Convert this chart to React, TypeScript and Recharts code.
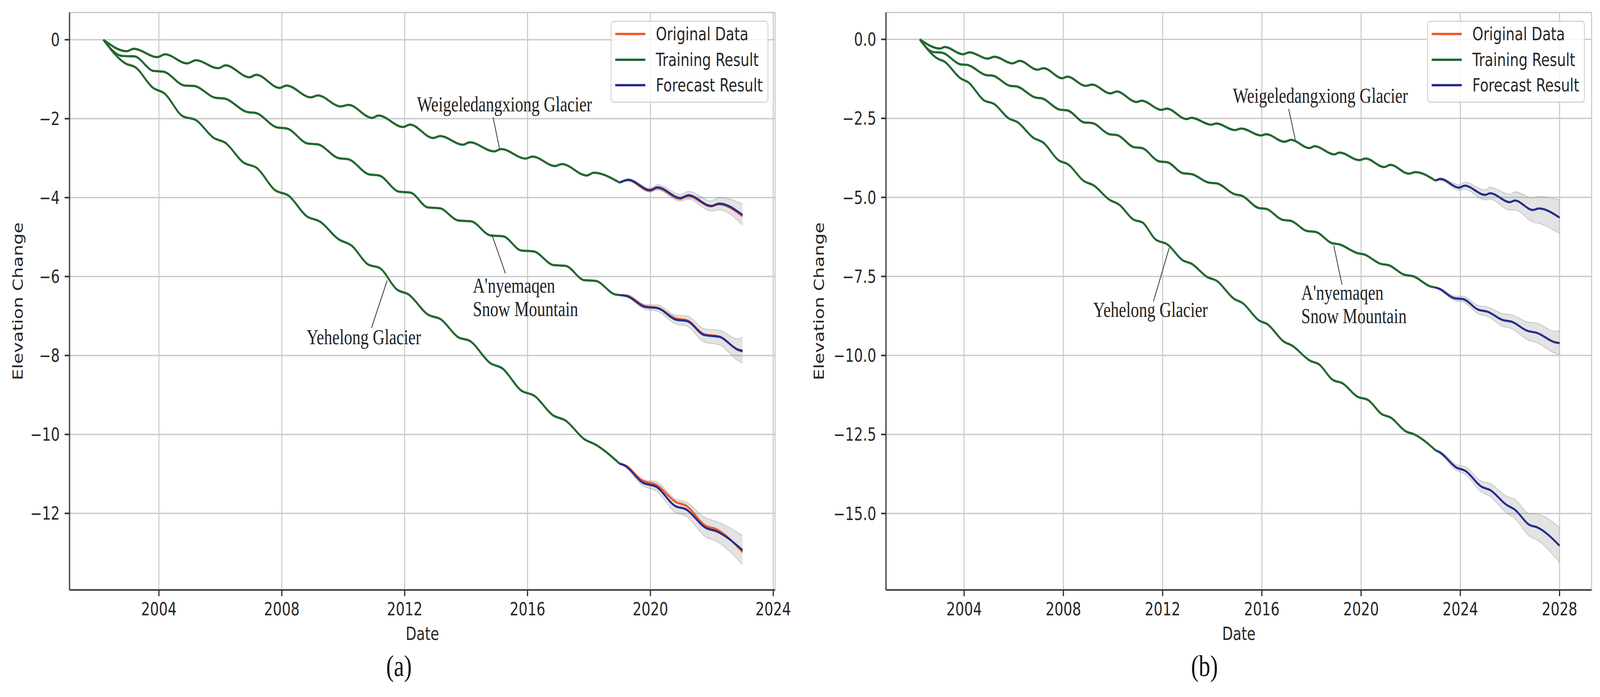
import React from "react";
import {
  ComposedChart,
  Line,
  Area,
  Scatter,
  XAxis,
  YAxis,
  CartesianGrid,
  ReferenceLine,
  Legend,
} from "recharts";

type Pt = [number, number];
type BandPt = [number, number, number];

// ---------- (a) trained to 2019, forecast 2019-2023 ----------
const WEIGE_A_TRAIN: Pt[] = [
  [2002.19, 0], [2002.95, -0.29], [2003.18, -0.23], [2003.95, -0.44], [2004.2, -0.37],
  [2004.92, -0.6], [2005.2, -0.52], [2005.93, -0.72], [2006.17, -0.65], [2006.95, -0.95],
  [2007.17, -0.89], [2007.93, -1.22], [2008.15, -1.16], [2008.95, -1.46], [2009.17, -1.41],
  [2009.92, -1.69], [2010.17, -1.65], [2010.94, -1.98], [2011.15, -1.92], [2011.95, -2.21],
  [2012.17, -2.15], [2012.93, -2.49], [2013.15, -2.44], [2013.9, -2.66], [2014.12, -2.6],
  [2014.92, -2.83], [2015.14, -2.77], [2015.94, -3.01], [2016.16, -2.96], [2016.9, -3.2],
  [2017.12, -3.15], [2017.93, -3.44], [2018.15, -3.37], [2019.0, -3.62],
];
const WEIGE_A_OBS: Pt[] = [
  [2019.0, -3.62], [2019.27, -3.56], [2019.98, -3.83], [2020.22, -3.76], [2020.97, -4.03],
  [2021.23, -3.96], [2021.97, -4.22], [2022.23, -4.17], [2023.0, -4.47],
];
const WEIGE_A_FC: Pt[] = [
  [2019.0, -3.62], [2019.28, -3.55], [2019.99, -3.81], [2020.23, -3.74], [2020.98, -4.01],
  [2021.24, -3.94], [2021.98, -4.21], [2022.24, -4.15], [2023.0, -4.44],
];
const WEIGE_A_BAND: BandPt[] = [
  [2019.0, -3.62, -3.62], [2019.28, -3.58, -3.52], [2019.99, -3.86, -3.76], [2020.23, -3.81, -3.67],
  [2020.98, -4.09, -3.92], [2021.24, -4.04, -3.84], [2021.98, -4.34, -4.08], [2022.24, -4.31, -3.99],
  [2023.0, -4.7, -4.16],
];

const ANYE_A_TRAIN: Pt[] = [
  [2002.19, 0], [2002.8, -0.41], [2003.2, -0.42], [2003.82, -0.79], [2004.15, -0.81],
  [2004.84, -1.16], [2005.14, -1.17], [2005.84, -1.47], [2006.13, -1.49], [2006.87, -1.83],
  [2007.17, -1.86], [2007.84, -2.22], [2008.17, -2.25], [2008.85, -2.63], [2009.17, -2.65],
  [2009.85, -3.0], [2010.17, -3.03], [2010.84, -3.41], [2011.17, -3.44], [2011.82, -3.85],
  [2012.18, -3.87], [2012.76, -4.25], [2013.14, -4.27], [2013.75, -4.58], [2014.16, -4.6],
  [2014.8, -4.96], [2015.2, -4.98], [2015.8, -5.34], [2016.19, -5.36], [2016.85, -5.71],
  [2017.24, -5.73], [2017.84, -6.09], [2018.22, -6.11], [2018.84, -6.45], [2019.0, -6.47],
];
const ANYE_A_OBS: Pt[] = [
  [2019.0, -6.47], [2019.25, -6.49], [2019.83, -6.75], [2020.23, -6.79], [2020.82, -7.06],
  [2021.2, -7.11], [2021.75, -7.46], [2022.25, -7.52], [2022.85, -7.86], [2023.0, -7.9],
];
const ANYE_A_FC: Pt[] = [
  [2019.0, -6.47], [2019.25, -6.5], [2019.83, -6.77], [2020.23, -6.8], [2020.82, -7.09],
  [2021.2, -7.13], [2021.75, -7.48], [2022.25, -7.53], [2022.85, -7.85], [2023.0, -7.88],
];
const ANYE_A_BAND: BandPt[] = [
  [2019.0, -6.47, -6.47], [2019.25, -6.53, -6.46], [2019.83, -6.83, -6.71], [2020.23, -6.88, -6.72],
  [2020.82, -7.2, -6.98], [2021.2, -7.26, -7.0], [2021.75, -7.66, -7.32], [2022.25, -7.73, -7.36],
  [2022.85, -8.13, -7.58], [2023.0, -8.19, -7.53],
];

const YEHE_A_TRAIN: Pt[] = [
  [2002.19, 0], [2002.93, -0.61], [2003.22, -0.69], [2003.81, -1.22], [2004.18, -1.36],
  [2004.76, -1.93], [2005.21, -2.04], [2005.79, -2.49], [2006.16, -2.61], [2006.75, -3.11],
  [2007.19, -3.25], [2007.78, -3.81], [2008.22, -3.95], [2008.81, -4.47], [2009.25, -4.61],
  [2009.84, -5.05], [2010.28, -5.22], [2010.8, -5.69], [2011.2, -5.79], [2011.75, -6.33],
  [2012.12, -6.45], [2012.77, -6.97], [2013.17, -7.08], [2013.75, -7.54], [2014.12, -7.63],
  [2014.8, -8.2], [2015.17, -8.32], [2015.8, -8.89], [2016.22, -9.02], [2016.82, -9.51],
  [2017.24, -9.65], [2017.85, -10.12], [2018.22, -10.26], [2019.0, -10.74],
];
const YEHE_A_OBS: Pt[] = [
  [2019.0, -10.74], [2019.17, -10.78], [2019.75, -11.17], [2020.2, -11.28], [2020.85, -11.72],
  [2021.15, -11.8], [2021.81, -12.32], [2022.14, -12.4], [2023.0, -12.98],
];
const YEHE_A_FC: Pt[] = [
  [2019.0, -10.74], [2019.17, -10.79], [2019.75, -11.22], [2020.2, -11.33], [2020.82, -11.82],
  [2021.14, -11.89], [2021.81, -12.37], [2022.14, -12.45], [2023.0, -12.93],
];
const YEHE_A_BAND: BandPt[] = [
  [2019.0, -10.74, -10.74], [2019.17, -10.82, -10.76], [2019.75, -11.3, -11.14], [2020.2, -11.44, -11.2],
  [2020.82, -11.98, -11.64], [2021.14, -12.06, -11.7], [2021.81, -12.6, -12.12], [2022.14, -12.7, -12.2],
  [2023.0, -13.3, -12.56],
];

// ---------- (b) trained to 2023, forecast 2023-2028 ----------
const WEIGE_B_TRAIN: Pt[] = [
  [2002.21, 0], [2003.03, -0.29], [2003.22, -0.24], [2003.95, -0.47], [2004.22, -0.41],
  [2004.95, -0.61], [2005.22, -0.55], [2005.95, -0.76], [2006.23, -0.68], [2006.96, -0.96],
  [2007.2, -0.91], [2007.96, -1.23], [2008.16, -1.18], [2008.9, -1.47], [2009.15, -1.43],
  [2009.9, -1.71], [2010.15, -1.65], [2010.95, -1.98], [2011.15, -1.94], [2011.96, -2.23],
  [2012.16, -2.19], [2012.97, -2.52], [2013.16, -2.48], [2013.96, -2.7], [2014.16, -2.66],
  [2014.92, -2.87], [2015.17, -2.82], [2015.97, -3.04], [2016.17, -3.0], [2016.92, -3.24],
  [2017.17, -3.18], [2017.92, -3.44], [2018.12, -3.38], [2018.93, -3.64], [2019.12, -3.58],
  [2019.93, -3.82], [2020.18, -3.77], [2020.93, -4.04], [2021.18, -3.97], [2021.93, -4.25],
  [2022.18, -4.2], [2023.0, -4.47],
];
const WEIGE_B_FC: Pt[] = [
  [2023.0, -4.47], [2023.2, -4.42], [2023.95, -4.69], [2024.18, -4.63], [2025.0, -4.92],
  [2025.2, -4.87], [2026.0, -5.15], [2026.2, -5.1], [2026.93, -5.4], [2027.16, -5.35],
  [2028.0, -5.64],
];
const WEIGE_B_BAND: BandPt[] = [
  [2023.0, -4.47, -4.47], [2023.2, -4.46, -4.38], [2023.95, -4.78, -4.6], [2024.18, -4.74, -4.52],
  [2025.0, -5.08, -4.76], [2025.2, -5.06, -4.68], [2026.0, -5.4, -4.9], [2026.2, -5.4, -4.82],
  [2026.93, -5.78, -5.02], [2027.16, -5.82, -4.97], [2028.0, -6.14, -5.08],
];

const ANYE_B_TRAIN: Pt[] = [
  [2002.21, 0], [2002.75, -0.4], [2003.1, -0.42], [2003.86, -0.79], [2004.14, -0.81],
  [2004.88, -1.13], [2005.16, -1.15], [2005.85, -1.47], [2006.12, -1.49], [2006.87, -1.84],
  [2007.15, -1.87], [2007.84, -2.22], [2008.17, -2.25], [2008.85, -2.63], [2009.17, -2.65],
  [2009.85, -3.0], [2010.17, -3.03], [2010.84, -3.41], [2011.17, -3.44], [2011.86, -3.86],
  [2012.2, -3.89], [2012.8, -4.23], [2013.2, -4.27], [2013.85, -4.53], [2014.2, -4.56],
  [2014.9, -4.9], [2015.2, -4.95], [2015.85, -5.33], [2016.2, -5.37], [2016.8, -5.7],
  [2017.2, -5.75], [2017.8, -6.06], [2018.2, -6.1], [2018.8, -6.44], [2019.14, -6.49],
  [2019.84, -6.76], [2020.14, -6.81], [2020.78, -7.1], [2021.13, -7.15], [2021.72, -7.44],
  [2022.12, -7.5], [2022.8, -7.82], [2023.0, -7.85],
];
const ANYE_B_FC: Pt[] = [
  [2023.0, -7.85], [2023.15, -7.89], [2023.76, -8.19], [2024.12, -8.22], [2024.71, -8.55],
  [2025.11, -8.62], [2025.71, -8.88], [2026.06, -8.93], [2026.7, -9.22], [2027.1, -9.29],
  [2027.8, -9.58], [2028.0, -9.61],
];
const ANYE_B_BAND: BandPt[] = [
  [2023.0, -7.85, -7.85], [2023.15, -7.92, -7.86], [2023.76, -8.26, -8.12], [2024.12, -8.31, -8.13],
  [2024.71, -8.68, -8.42], [2025.11, -8.77, -8.47], [2025.71, -9.08, -8.68], [2026.06, -9.15, -8.71],
  [2026.7, -9.5, -8.94], [2027.1, -9.6, -8.98], [2027.8, -9.93, -9.23], [2028.0, -9.98, -9.22],
];

const YEHE_B_TRAIN: Pt[] = [
  [2002.21, 0], [2002.93, -0.61], [2003.2, -0.7], [2003.85, -1.23], [2004.17, -1.36],
  [2004.8, -1.93], [2005.2, -2.04], [2005.8, -2.5], [2006.15, -2.62], [2006.8, -3.12],
  [2007.18, -3.26], [2007.8, -3.82], [2008.2, -3.96], [2008.82, -4.48], [2009.22, -4.62],
  [2009.85, -5.07], [2010.25, -5.23], [2010.82, -5.7], [2011.2, -5.8], [2011.7, -6.32],
  [2012.2, -6.49], [2012.81, -6.99], [2013.17, -7.1], [2013.8, -7.52], [2014.16, -7.63],
  [2014.9, -8.22], [2015.2, -8.33], [2015.9, -8.9], [2016.2, -9.0], [2016.9, -9.57],
  [2017.2, -9.68], [2017.95, -10.17], [2018.3, -10.28], [2018.85, -10.77], [2019.25, -10.88],
  [2019.84, -11.3], [2020.3, -11.42], [2020.82, -11.85], [2021.2, -11.97], [2021.8, -12.4],
  [2022.15, -12.5], [2023.0, -13.0],
];
const YEHE_B_FC: Pt[] = [
  [2023.0, -13.0], [2023.2, -13.08], [2023.85, -13.55], [2024.2, -13.65], [2024.85, -14.15],
  [2025.2, -14.26], [2025.85, -14.72], [2026.2, -14.88], [2026.78, -15.36], [2027.1, -15.44],
  [2028.0, -16.02],
];
const YEHE_B_BAND: BandPt[] = [
  [2023.0, -13.0, -13.0], [2023.2, -13.12, -13.04], [2023.85, -13.64, -13.46], [2024.2, -13.76, -13.52],
  [2024.85, -14.32, -13.98], [2025.2, -14.46, -14.05], [2025.85, -14.98, -14.45], [2026.2, -15.16, -14.56],
  [2026.78, -15.72, -15.0], [2027.1, -15.84, -15.02], [2028.0, -16.56, -15.44],
];

// ---------- axes, ticks, labels ----------
const X_TICKS_A = [2004, 2008, 2012, 2016, 2020, 2024];
const X_TICKS_B = [2004, 2008, 2012, 2016, 2020, 2024, 2028];
const Y_TICKS_A = [-12, -10, -8, -6, -4, -2, 0];
const Y_TICKS_B = [-15, -12.5, -10, -7.5, -5, -2.5, 0];

const NOTES_A = [
  { t: 2015.25, v: -1.81, anchor: "middle", lines: ["Weigeledangxiong Glacier"] },
  { t: 2014.22, v: -6.41, anchor: "start", lines: ["A'nyemaqen", "Snow Mountain"] },
  { t: 2010.67, v: -7.71, anchor: "middle", lines: ["Yehelong Glacier"] },
];
const NOTES_B = [
  { t: 2018.36, v: -2.0, anchor: "middle", lines: ["Weigeledangxiong Glacier"] },
  { t: 2017.59, v: -8.23, anchor: "start", lines: ["A'nyemaqen", "Snow Mountain"] },
  { t: 2011.51, v: -8.78, anchor: "middle", lines: ["Yehelong Glacier"] },
];
const LEADERS_A: [Pt, Pt][] = [
  [[2014.88, -1.97], [2015.09, -2.77]],
  [[2014.84, -4.94], [2015.28, -5.92]],
  [[2011.43, -6.1], [2010.92, -7.3]],
];
const LEADERS_B: [Pt, Pt][] = [
  [[2017.08, -2.2], [2017.35, -3.18]],
  [[2018.9, -6.53], [2019.23, -7.76]],
  [[2012.27, -6.59], [2011.63, -8.29]],
];

const ORANGE = "#f0592a";
const GREEN = "#1a6b33";
const NAVY = "#232e8c";
const LEGEND_ITEMS = [
  { label: "Original Data", color: ORANGE },
  { label: "Training Result", color: GREEN },
  { label: "Forecast Result", color: NAVY },
];

const SANS = "DejaVu Sans";
const SERIF = "Liberation Serif";
// the reference figure is squeezed horizontally, so lay out wide and compress
// to whatever width the page really has
const REF_W = 4211;
const SQUEEZE = 0.8;
const LAYOUT_W = REF_W / SQUEEZE;
const H = 1784;
const Y_AXIS_W = 228.75;
const NOTE_SIZE = 54;
const NOTE_LEAD = 60;

const TICK = { fontFamily: SANS, fontSize: 46, fill: "#262626" };
const TICK_LINE = { stroke: "#333", strokeWidth: 4 };
const SPINE = { stroke: "#3a3a3a", strokeWidth: 4 };

const toPts = (a: Pt[]) => a.map(([t, v]) => ({ t, v }));
const toBand = (a: BandPt[]) => a.map(([t, lo, hi]) => ({ t, band: [lo, hi] }));
const minus = (s: string) => s.replace("-", "\u2212");

const PANELS = [
  {
    key: "a",
    left: 0,
    width: 2650,
    right: 100,
    xDomain: [2001.09, 2024.06],
    xTicks: X_TICKS_A,
    yDomain: [-13.94, 0.69],
    yTicks: Y_TICKS_A,
    yFmt: (v: number) => minus(String(v)),
    series: [
      { train: WEIGE_A_TRAIN, obs: WEIGE_A_OBS, fc: WEIGE_A_FC, band: WEIGE_A_BAND },
      { train: ANYE_A_TRAIN, obs: ANYE_A_OBS, fc: ANYE_A_FC, band: ANYE_A_BAND },
      { train: YEHE_A_TRAIN, obs: YEHE_A_OBS, fc: YEHE_A_FC, band: YEHE_A_BAND },
    ],
    notes: NOTES_A,
    leaders: LEADERS_A,
  },
  {
    key: "b",
    left: 2686.25,
    width: 2577.5,
    right: 27.5,
    xDomain: [2000.85, 2029.29],
    xTicks: X_TICKS_B,
    yDomain: [-17.42, 0.85],
    yTicks: Y_TICKS_B,
    yFmt: (v: number) => minus(v.toFixed(1)),
    series: [
      { train: WEIGE_B_TRAIN, obs: [] as Pt[], fc: WEIGE_B_FC, band: WEIGE_B_BAND },
      { train: ANYE_B_TRAIN, obs: [] as Pt[], fc: ANYE_B_FC, band: ANYE_B_BAND },
      { train: YEHE_B_TRAIN, obs: [] as Pt[], fc: YEHE_B_FC, band: YEHE_B_BAND },
    ],
    notes: NOTES_B,
    leaders: LEADERS_B,
  },
];

function NoteShape(props: any) {
  const { cx, cy, payload } = props;
  return (
    <text
      x={cx}
      y={cy}
      textAnchor={payload.anchor}
      fontFamily={SERIF}
      fontSize={NOTE_SIZE}
      fill="#222"
    >
      {payload.lines.map((line: string, i: number) => (
        <tspan key={i} x={cx} dy={i === 0 ? 0 : NOTE_LEAD}>
          {line}
        </tspan>
      ))}
    </text>
  );
}

function LegendBox() {
  return (
    <div
      style={{
        position: "relative",
        width: 518.75,
        height: 210,
        boxSizing: "border-box",
        border: "3px solid #d4d4d4",
        borderRadius: 10,
        background: "rgba(255,255,255,0.8)",
      }}
    >
      {LEGEND_ITEMS.map((it, i) => (
        <div
          key={it.label}
          style={{
            position: "absolute",
            left: 12,
            top: 34 + i * 65.5 - 23 - 3,
            height: 46,
            display: "flex",
            alignItems: "center",
            whiteSpace: "nowrap",
          }}
        >
          <div style={{ width: 99, height: 6, background: it.color }} />
          <span
            style={{
              marginLeft: 35,
              fontFamily: SANS,
              fontSize: 46,
              color: "#262626",
              lineHeight: "46px",
            }}
          >
            {it.label}
          </span>
        </div>
      ))}
    </div>
  );
}

const lineProps = {
  type: "monotone" as const,
  dataKey: "v",
  strokeWidth: 5.5,
  dot: false,
  activeDot: false,
  isAnimationActive: false,
};

function Panel({ p }: { p: (typeof PANELS)[number] }) {
  return (
    <ComposedChart
      width={p.width}
      height={H}
      margin={{ top: 32, right: p.right, bottom: 174, left: 0 }}
    >
      <CartesianGrid stroke="#cbcbcb" strokeWidth={3.5} />
      <XAxis
        dataKey="t"
        type="number"
        domain={p.xDomain}
        ticks={p.xTicks}
        allowDataOverflow
        interval={0}
        height={100}
        tickSize={16}
        tickMargin={16}
        tick={TICK}
        tickLine={TICK_LINE}
        axisLine={SPINE}
      />
      <XAxis
        xAxisId="top"
        orientation="top"
        type="number"
        domain={p.xDomain}
        allowDataOverflow
        height={0}
        tick={false}
        tickLine={false}
        axisLine={SPINE}
      />
      <YAxis
        type="number"
        domain={p.yDomain}
        ticks={p.yTicks}
        allowDataOverflow
        interval={0}
        width={Y_AXIS_W}
        tickSize={16}
        tickMargin={16}
        tick={TICK}
        tickLine={TICK_LINE}
        axisLine={SPINE}
        tickFormatter={p.yFmt}
      />
      <YAxis
        yAxisId="right"
        orientation="right"
        type="number"
        domain={p.yDomain}
        allowDataOverflow
        width={0}
        tick={false}
        tickLine={false}
        axisLine={SPINE}
      />
      {p.series.map((s, i) => (
        <Area
          key={`band${i}`}
          data={toBand(s.band)}
          dataKey="band"
          type="monotone"
          fill="#808080"
          fillOpacity={0.22}
          stroke="#9a9a9a"
          strokeOpacity={0.5}
          strokeWidth={2}
          isAnimationActive={false}
          dot={false}
          activeDot={false}
        />
      ))}
      {p.series.map((s, i) => (
        <Line key={`obs${i}`} name="Original Data" data={toPts(s.train)} stroke={ORANGE} {...lineProps} />
      ))}
      {p.series
        .filter((s) => s.obs.length > 0)
        .map((s, i) => (
          <Line key={`obsf${i}`} name="Original Data" data={toPts(s.obs)} stroke={ORANGE} {...lineProps} />
        ))}
      {p.series.map((s, i) => (
        <Line key={`train${i}`} name="Training Result" data={toPts(s.train)} stroke={GREEN} {...lineProps} />
      ))}
      {p.series.map((s, i) => (
        <Line key={`fc${i}`} name="Forecast Result" data={toPts(s.fc)} stroke={NAVY} {...lineProps} />
      ))}
      {p.leaders.map(([a, b], i) => (
        <ReferenceLine
          key={`lead${i}`}
          segment={[
            { x: a[0], y: a[1] },
            { x: b[0], y: b[1] },
          ]}
          stroke="#333"
          strokeWidth={2.5}
          ifOverflow="visible"
        />
      ))}
      <Scatter data={p.notes} dataKey="v" shape={NoteShape} isAnimationActive={false} />
      <Legend
        layout="horizontal"
        verticalAlign="middle"
        align="center"
        wrapperStyle={{ left: 2008.75, top: 53, width: 518.75, height: 210 }}
        content={() => <LegendBox />}
      />
    </ComposedChart>
  );
}

export default function App() {
  const pageW =
    typeof window !== "undefined" && window.innerWidth > 0
      ? Math.min(window.innerWidth, REF_W)
      : REF_W;
  const squeeze = SQUEEZE * (pageW / REF_W);
  return (
    <div
      style={{
        position: "absolute",
        left: 0,
        top: 0,
        width: pageW,
        height: H,
        overflow: "hidden",
        background: "#fff",
      }}
    >
      <div
        style={{
          position: "absolute",
          left: 0,
          top: 0,
          width: LAYOUT_W,
          height: H,
          transform: `scaleX(${squeeze})`,
          transformOrigin: "0 0",
        }}
      >
        {PANELS.map((p) => (
          <div key={p.key} style={{ position: "absolute", left: p.left, top: 0 }}>
            <Panel p={p} />
          </div>
        ))}
        <svg
          width={LAYOUT_W}
          height={H}
          style={{ position: "absolute", left: 0, top: 0, pointerEvents: "none" }}
        >
          <g fontFamily={SANS} fontSize={46} fill="#262626" textAnchor="middle">
            <text x={74} y={771} transform="rotate(-90 74 771)">
              Elevation Change
            </text>
            <text x={2710} y={771} transform="rotate(-90 2710 771)">
              Elevation Change
            </text>
            <text x={1389.4} y={1638}>
              Date
            </text>
            <text x={4075.6} y={1638}>
              Date
            </text>
          </g>
          <g fontFamily={SERIF} fontSize={76} fill="#111" textAnchor="middle">
            <text x={1312.5} y={1730}>
              (a)
            </text>
            <text x={3962.5} y={1730}>
              (b)
            </text>
          </g>
        </svg>
      </div>
    </div>
  );
}
